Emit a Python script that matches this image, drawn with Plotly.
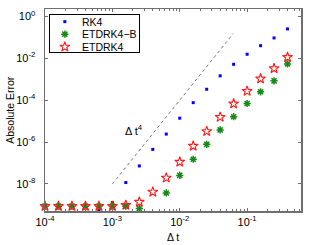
import plotly.graph_objects as go

# time steps (log-spaced)
dt = [1.000e-4, 1.585e-4, 2.512e-4, 3.981e-4, 6.310e-4,
      1.000e-3, 1.585e-3, 2.512e-3, 3.981e-3, 6.310e-3,
      1.000e-2, 1.585e-2, 2.512e-2, 3.981e-2, 6.310e-2,
      1.000e-1, 1.585e-1, 2.512e-1, 3.981e-1, 6.310e-1]

err_rk4 = [8.7e-10, 8.7e-10, 8.7e-10, 8.7e-10, 5.62e-10,
           1.29e-9, 1.17e-8, 7.24e-8, 4.47e-7, 2.40e-6,
           1.38e-5, 7.59e-5, 3.31e-4, 1.45e-3, 5.13e-3,
           1.55e-2, 3.98e-2, 9.33e-2, 0.251, 1.29]

err_etdrk4b = [8.7e-10, 8.7e-10, 8.7e-10, 8.7e-10, 8.7e-10,
               8.7e-10, 8.7e-10, 6.76e-10, 5.01e-10, 3.72e-9,
               2.57e-8, 1.51e-7, 7.76e-7, 3.80e-6, 1.62e-5,
               6.92e-5, 2.51e-4, 8.32e-4, 5.37e-3, 2.51]

err_etdrk4 = [8.7e-10, 8.7e-10, 8.7e-10, 8.7e-10, 8.7e-10,
              8.7e-10, 9.77e-10, 1.38e-9, 4.17e-9, 1.95e-8,
              1.12e-7, 6.46e-7, 3.24e-6, 1.55e-5, 6.76e-5,
              2.69e-4, 1.05e-3, 3.24e-3, 1.12e-2, 2.51]

series_names = ["RK4", "ETDRK4\u2212B", "ETDRK4"]

# reference slope line  ~ dt^4
ref_dt = [1.0e-3, 0.0625]
ref_err = [1.0e-8, 0.1526]

x_tickvals = [1e-4, 1e-3, 1e-2, 1e-1]
x_ticktext = ["10<sup>-4</sup>", "10<sup>-3</sup>", "10<sup>-2</sup>", "10<sup>-1</sup>"]
x_minorvals = [2e-4, 3e-4, 4e-4, 5e-4, 6e-4, 7e-4, 8e-4, 9e-4,
               2e-3, 3e-3, 4e-3, 5e-3, 6e-3, 7e-3, 8e-3, 9e-3,
               2e-2, 3e-2, 4e-2, 5e-2, 6e-2, 7e-2, 8e-2, 9e-2,
               2e-1, 3e-1, 4e-1, 5e-1, 6e-1]
y_tickvals = [1e-8, 1e-6, 1e-4, 1e-2, 1e0]
y_ticktext = ["10<sup>-8</sup>", "10<sup>-6</sup>", "10<sup>-4</sup>", "10<sup>-2</sup>", "10<sup>0</sup>"]

FONT = "Liberation Sans, Arial, Helvetica, sans-serif"
W, H = 310, 245
ML, MR, MT, MB = 45, 7, 8, 34
PL, PR, PT, PB = ML, W - MR, MT, H - MB


def px(x):
    return (x - PL) / (PR - PL)


def py(y):
    return (PB - y) / (PB - PT)


GREEN = "#168a16"
RED = "#ff1a1a"
styles = [
    dict(symbol="square", size=3, color="#0000ff"),
    dict(symbol="asterisk-open", size=6, color=GREEN, line=dict(color=GREEN, width=1.5)),
    dict(symbol="star-open", size=7.5, color=RED, line=dict(color=RED, width=1.1)),
]

fig = go.Figure()
fig.add_trace(go.Scatter(x=ref_dt, y=ref_err, mode="lines",
                         line=dict(color="#777777", width=1, dash="dot"),
                         showlegend=False, hoverinfo="skip"))
for yv, name, st in zip([err_rk4, err_etdrk4b, err_etdrk4], series_names, styles):
    fig.add_trace(go.Scatter(x=dt, y=yv, mode="markers", name=name,
                             marker=st, cliponaxis=False, showlegend=False))

# hand-made legend (compact like the original)
leg_rows = [20.7, 33.3, 46.0]
# legend frame: an empty bordered annotation
fig.add_annotation(x=px(95.2), y=py(32.8), xref="paper", yref="paper",
                   text=" ", showarrow=False, xanchor="center", yanchor="middle",
                   width=89, height=37, borderpad=0,
                   bordercolor="#000000", borderwidth=1, bgcolor="rgba(0,0,0,0)",
                   font=dict(family=FONT, size=6))
for row, name, st in zip(leg_rows, series_names, styles):
    fig.add_trace(go.Scatter(x=[px(65)], y=[py(row)], mode="markers", marker=st,
                             xaxis="x2", yaxis="y2", showlegend=False,
                             hoverinfo="skip", cliponaxis=False))
    fig.add_annotation(x=px(80.5), y=py(row), xref="paper", yref="paper",
                       text=name, showarrow=False, xanchor="left", yanchor="middle",
                       font=dict(family=FONT, size=10.5, color="#000000"))

axis_common = dict(type="log", showgrid=False, zeroline=False,
                   showline=True, linecolor="#6f6f6f", linewidth=1.5, mirror="ticks",
                   ticks="inside", ticklen=3, tickcolor="#6f6f6f",
                   tickfont=dict(family=FONT, size=11, color="#000000"))

fig.update_layout(
    xaxis=dict(**axis_common, range=[-4, -0.2],
               tickvals=x_tickvals, ticktext=x_ticktext,
               minor=dict(ticks="inside", ticklen=2, tickcolor="#6f6f6f",
                          tickvals=x_minorvals)),
    yaxis=dict(**axis_common, range=[-9.29, 0.35],
               tickvals=y_tickvals, ticktext=y_ticktext, ticklabelstandoff=6),
    xaxis2=dict(overlaying="x", range=[0, 1], visible=False, anchor="y2"),
    yaxis2=dict(overlaying="y", range=[0, 1], visible=False, anchor="x2"),
)

fig.add_annotation(x=px(135), y=py(130), xref="paper", yref="paper",
                   text="Δ t<sup>4</sup>", showarrow=False,
                   xanchor="center", yanchor="middle",
                   font=dict(family=FONT, size=11, color="#000000"))
fig.add_annotation(x=px(9), y=py(109), xref="paper", yref="paper",
                   text="Absolute Error", showarrow=False, textangle=-90,
                   xanchor="center", yanchor="middle",
                   font=dict(family=FONT, size=10.5, color="#000000"))
fig.add_annotation(x=px(174), y=py(237), xref="paper", yref="paper",
                   text="Δ t", showarrow=False,
                   xanchor="center", yanchor="middle",
                   font=dict(family=FONT, size=10.5, color="#000000"))

fig.update_layout(
    width=W, height=H,
    margin=dict(l=ML, r=MR, t=MT, b=MB),
    paper_bgcolor="white", plot_bgcolor="white",
    showlegend=False,
)

fig.write_html("out.html", config={"displayModeBar": False, "staticPlot": True})

# remove the browser's default page margin so the figure sits at (0, 0)
with open("out.html", "r", encoding="utf-8") as f:
    html = f.read()
html = html.replace("<head>", "<head><style>html,body{margin:0;padding:0;overflow:hidden;}</style>", 1)
with open("out.html", "w", encoding="utf-8") as f:
    f.write(html)
